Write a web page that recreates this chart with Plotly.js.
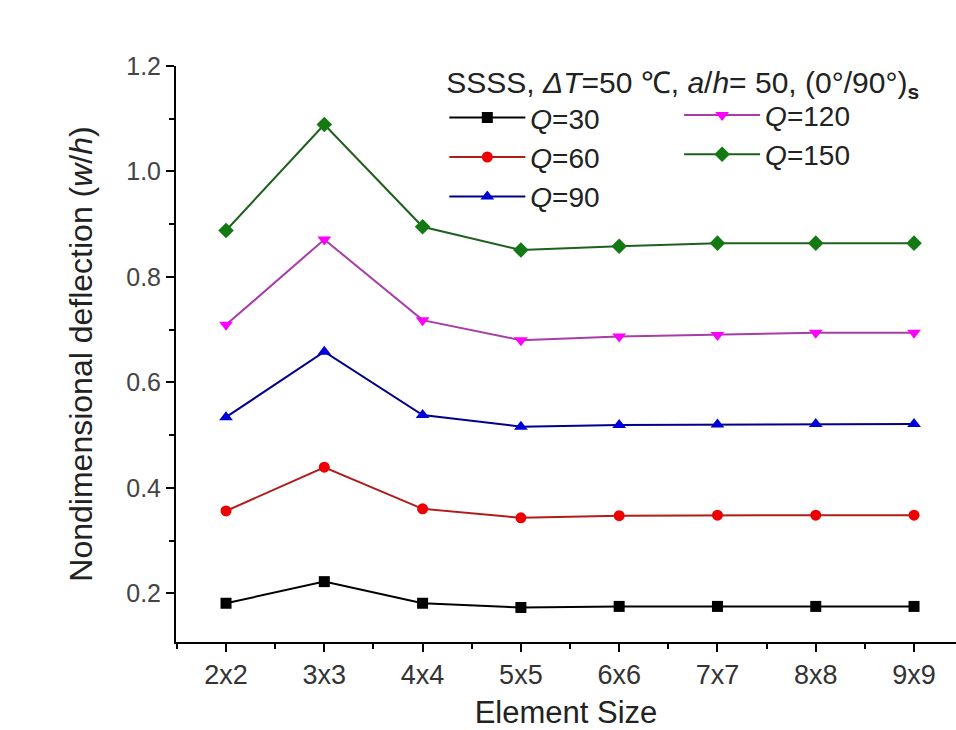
<!DOCTYPE html>
<html>
<head>
<meta charset="utf-8">
<script src="https://cdn.plot.ly/plotly-3.0.1.min.js"></script>
<style>html,body{margin:0;padding:0;background:#fff;}#chart{width:956px;height:730px;}</style>
</head>
<body>
<div id="chart"></div>
<script>
// Data
const categories = ["2x2", "3x3", "4x4", "5x5", "6x6", "7x7", "8x8", "9x9"];
const q30  = [0.181, 0.222, 0.181, 0.173, 0.175, 0.175, 0.175, 0.175];
const q60  = [0.356, 0.439, 0.360, 0.343, 0.347, 0.348, 0.348, 0.348];
const q90  = [0.534, 0.658, 0.538, 0.516, 0.519, 0.520, 0.521, 0.521];
const q120 = [0.709, 0.871, 0.718, 0.680, 0.687, 0.690, 0.694, 0.694];
const q150 = [0.888, 1.089, 0.895, 0.851, 0.858, 0.864, 0.864, 0.864];
const seriesNames = ["<i>Q</i>=30", "<i>Q</i>=60", "<i>Q</i>=90", "<i>Q</i>=120", "<i>Q</i>=150"];

const xIdx = categories.map((c, i) => i);
const FONT = "Liberation Sans, Arial, sans-serif";

function mk(y, name, lineColor, markerColor, symbol, size, leg) {
  return {
    x: xIdx, y: y, name: name, type: "scatter", mode: "lines+markers", legend: leg,
    line: {color: lineColor, width: 2},
    marker: {color: markerColor, symbol: symbol, size: size, line: {width: 0}},
    hoverinfo: "skip"
  };
}

const data = [
  mk(q30,  seriesNames[0], "#000000", "#000000", "square", 11, "legend"),
  mk(q60,  seriesNames[1], "#b01c1c", "#ee0000", "circle", 11, "legend"),
  mk(q90,  seriesNames[2], "#00008c", "#0000dd", "triangle-up", 12, "legend"),
  mk(q120, seriesNames[3], "#a83ca8", "#ff00ff", "triangle-down", 12, "legend2"),
  mk(q150, seriesNames[4], "#1f5f1f", "#137a13", "diamond", 12, "legend2")
];

const legFont = {family: FONT, size: 28, color: "#222"};

const layout = {
  width: 956, height: 730,
  margin: {l: 176, r: 0, t: 66, b: 88, pad: 0},
  paper_bgcolor: "#ffffff", plot_bgcolor: "#ffffff",
  font: {family: FONT, color: "#222"},
  showlegend: true,
  legend: {
    orientation: "v", x: 0.344, xanchor: "left", y: 1.021, yanchor: "top",
    bgcolor: "rgba(0,0,0,0)", borderwidth: 0, font: legFont, itemwidth: 76,
    traceorder: "normal", tracegroupgap: 0,
    title: {text: "SSSS, <i>ΔT</i>=50 ℃, <i>a</i>/<i>h</i>= 50, (0°/90°)<sub><b>s</b></sub>", side: "top",
            font: {family: FONT, size: 30, color: "#222"}}
  },
  legend2: {
    orientation: "v", x: 0.645, xanchor: "left", y: 0.958, yanchor: "top",
    bgcolor: "rgba(0,0,0,0)", borderwidth: 0, font: legFont, itemwidth: 76,
    traceorder: "normal", tracegroupgap: 0
  },
  xaxis: {
    range: [-0.509, 7.427], tickmode: "array", tickvals: xIdx, ticktext: categories,
    showgrid: false, zeroline: false, showline: true, linecolor: "#000", linewidth: 2,
    ticks: "outside", ticklen: 8, tickwidth: 2, tickcolor: "#000",
    tickfont: {family: FONT, size: 27, color: "#333"},
    minor: {tickmode: "linear", tick0: 0.5, dtick: 1, ticks: "outside", ticklen: 5, tickwidth: 2, tickcolor: "#000", showgrid: false},
    title: {text: "Element Size", font: {family: FONT, size: 31, color: "#222"}, standoff: 22}
  },
  yaxis: {
    range: [0.1075, 1.2], tickmode: "linear", tick0: 0.2, dtick: 0.2, tickformat: ".1f",
    showgrid: false, zeroline: false, showline: true, linecolor: "#000", linewidth: 2,
    ticks: "outside", ticklen: 8, tickwidth: 2, tickcolor: "#000",
    tickfont: {family: FONT, size: 25, color: "#444"},
    minor: {tickmode: "linear", tick0: 0.1, dtick: 0.1, ticks: "outside", ticklen: 5, tickwidth: 2, tickcolor: "#000", showgrid: false},
    title: {text: "Nondimensional deflection (<i>w</i>/<i>h</i>)", font: {family: FONT, size: 32, color: "#222"}, standoff: 24}
  }
};

Plotly.newPlot("chart", data, layout, {displayModeBar: false, staticPlot: true});
</script>
</body>
</html>
